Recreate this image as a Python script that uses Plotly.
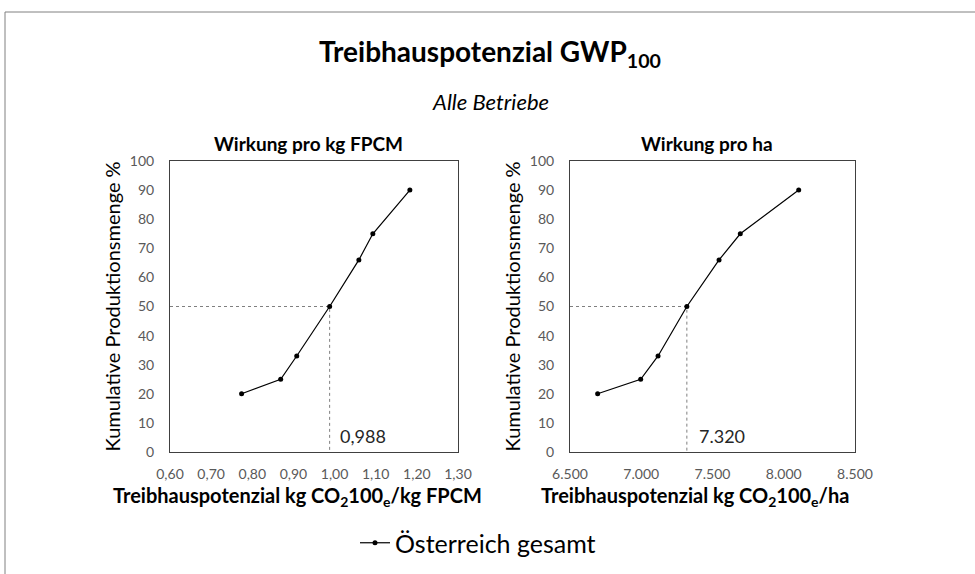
import plotly.graph_objects as go

# ---- data ----
cum_share = [20, 25, 33, 50, 66, 75, 90]                     # Kumulative Produktionsmenge %
gwp_fpcm = [0.774, 0.869, 0.908, 0.988, 1.059, 1.093, 1.183]  # kg CO2e / kg FPCM
gwp_ha = [6694, 6996, 7118, 7320, 7546, 7695, 8105]           # kg CO2e / ha
median_share = 50
median_fpcm = 0.988
median_ha = 7320
median_fpcm_label = "0,988"
median_ha_label = "7.320"
x1_range = [0.60, 1.30]
x2_range = [6500, 8500]
y_ticks = [0, 10, 20, 30, 40, 50, 60, 70, 80, 90, 100]
series_name = "Österreich gesamt"

FONT = "Lato"
W, H = 975, 574

def px(x):
    return x / W

def py(y):
    return 1 - y / H

fig = go.Figure()

line_style = dict(color="black", width=1.2)
marker_style = dict(color="black", size=5)
dot_style = dict(color="#7f7f7f", width=1, dash="dot")

# reference (median) lines
fig.add_trace(go.Scatter(x=[x1_range[0], median_fpcm, median_fpcm], y=[median_share, median_share, 0],
                         mode="lines", line=dot_style, showlegend=False, hoverinfo="skip",
                         xaxis="x", yaxis="y"))
fig.add_trace(go.Scatter(x=[x2_range[0], median_ha, median_ha], y=[median_share, median_share, 0],
                         mode="lines", line=dot_style, showlegend=False, hoverinfo="skip",
                         xaxis="x2", yaxis="y2"))

fig.add_trace(go.Scatter(x=gwp_fpcm, y=cum_share, mode="lines+markers", name=series_name,
                         line=line_style, marker=marker_style, xaxis="x", yaxis="y", showlegend=True))
fig.add_trace(go.Scatter(x=gwp_ha, y=cum_share, mode="lines+markers", name=series_name,
                         line=line_style, marker=marker_style, xaxis="x2", yaxis="y2", showlegend=False))

tick_font = dict(family=FONT, size=14, color="#595959")
ax_common = dict(showgrid=False, zeroline=False, showline=True, mirror=True, automargin=False,
                 linecolor="#404040", linewidth=1, ticks="", tickfont=tick_font)
yt_font = dict(family=FONT, size=20, color="black")

y_dom = [py(452), py(161)]

fig.update_layout(
    width=W, height=H,
    margin=dict(l=0, r=0, t=0, b=0, pad=0, autoexpand=False),
    paper_bgcolor="white", plot_bgcolor="white",
    separators=",.",
    font=dict(family=FONT, color="black"),
    title=dict(text="<b>Treibhauspotenzial GWP<sub>100</sub></b>", x=px(490), y=py(52),
               xref="paper", yref="paper", xanchor="center", yanchor="middle", automargin=False,
               font=dict(family=FONT, size=28, color="black")),
    xaxis=dict(domain=[px(170), px(458)], range=x1_range, dtick=0.1, tickformat=".2f",
               anchor="y", ticklabelstandoff=9, **ax_common),
    yaxis=dict(domain=y_dom, range=[0, 100], tickvals=y_ticks, anchor="x", ticklabelstandoff=12,
               title=dict(text="Kumulative Produktionsmenge %", font=yt_font, standoff=3),
               **ax_common),
    xaxis2=dict(domain=[px(570), px(855)], range=x2_range, dtick=500, tickformat=",d",
                anchor="y2", ticklabelstandoff=9, **ax_common),
    yaxis2=dict(domain=y_dom, range=[0, 100], tickvals=y_ticks, anchor="x2", ticklabelstandoff=12,
                title=dict(text="Kumulative Produktionsmenge %", font=yt_font, standoff=3),
                **ax_common),
    showlegend=True,
    legend=dict(orientation="h", x=px(478), xanchor="center", y=py(543), yanchor="middle",
                font=dict(family=FONT, size=25, color="black"), bgcolor="rgba(0,0,0,0)",
                itemwidth=30),
    shapes=[dict(type="rect", xref="paper", yref="paper", x0=px(5), x1=1.05, y0=-0.05, y1=py(12),
                 line=dict(color="#808080", width=1), fillcolor="rgba(0,0,0,0)", layer="below")],
)

ann = []
def add_text(text, x, y, size, xanchor="center", color="black"):
    ann.append(dict(text=text, x=px(x), y=py(y), xref="paper", yref="paper", showarrow=False,
                    xanchor=xanchor, yanchor="middle",
                    font=dict(family=FONT, size=size, color=color)))

add_text("<i>Alle Betriebe</i>", 490, 102, 22)
add_text("<b>Wirkung pro kg FPCM</b>", 308, 143, 19)
add_text("<b>Wirkung pro ha</b>", 707, 143, 19)
add_text("<b>Treibhauspotenzial kg CO<sub>2</sub>100<sub>e</sub>/kg FPCM</b>", 297, 496, 20)
add_text("<b>Treibhauspotenzial kg CO<sub>2</sub>100<sub>e</sub>/ha</b>", 695, 496, 20)
add_text(median_fpcm_label, 338, 436, 18, xanchor="left", color="#262626")
add_text(median_ha_label, 697, 436, 18, xanchor="left", color="#262626")
fig.update_layout(annotations=ann)

fig.write_html("out.html", config={"displayModeBar": False},
               post_script="document.body.style.margin='0';document.body.style.overflow='hidden';")
